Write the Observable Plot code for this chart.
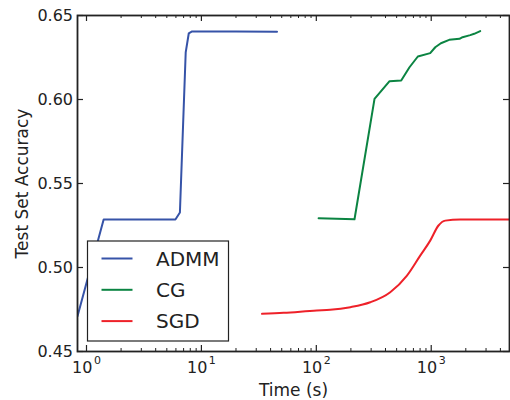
<!DOCTYPE html>
<html><head><meta charset="utf-8">
<script src="https://cdn.jsdelivr.net/npm/d3@7"></script>
<script src="https://cdn.jsdelivr.net/npm/@observablehq/plot@0.6"></script>
<style>body{margin:0;background:#fff} svg{font-family:"DejaVu Sans";}</style>
</head><body><div id="chart"></div>
<script>
const names = ["ADMM", "CG", "SGD"];
const colors = ["#3653a8", "#0b8442", "#ee2129"];

const admmT = [0.835, 1.41, 5.94, 6.5, 7.3, 7.76, 8.3, 20, 45.5];
const admmAcc = [0.471, 0.5286, 0.5286, 0.5327, 0.628, 0.6393, 0.6405, 0.6405, 0.6403];

const cgT = [104.7, 215, 321, 434, 548, 647, 765, 980, 1084, 1214, 1434, 1763, 1874, 2185, 2366, 2670];
const cgAcc = [0.5293, 0.5287, 0.6004, 0.6109, 0.6113, 0.6192, 0.6256, 0.6276, 0.6311, 0.6335, 0.6355, 0.6361, 0.6371, 0.6383, 0.6391, 0.6407];

const sgdT = [33.7, 52, 101, 132, 198, 295, 440, 615, 802, 980, 1157, 1324, 1786, 4800];
const sgdAcc = [0.4724, 0.4730, 0.4744, 0.4748, 0.4764, 0.4793, 0.4853, 0.4952, 0.5071, 0.5160, 0.5250, 0.5279, 0.5286, 0.5286];

const xMajor = [1, 10, 100, 1000];
const xExponents = ["0", "1", "2", "3"];
const xMinor = [2,3,4,5,6,7,8,9, 20,30,40,50,60,70,80,90, 200,300,400,500,600,700,800,900, 2000,3000,4000];
const yTicks = [0.45, 0.50, 0.55, 0.60, 0.65];
const xLabel = "Time (s)";
const yLabel = "Test Set Accuracy";

const seriesT = [admmT, cgT, sgdT];
const seriesAcc = [admmAcc, cgAcc, sgdAcc];
const data = [];
names.forEach((n, i) => seriesT[i].forEach((t, j) => data.push({name: n, t, acc: seriesAcc[i][j]})));

const W = 510, H = 400, mL = 77, mR = 1, mT = 15, mB = 49;
const xDom = [0.835, 4800], yDom = [0.45, 0.65];
// convert pixel tick lengths into data units of the scales
const yPerPx = (yDom[1] - yDom[0]) / (H - mT - mB);
const decPerPx = (Math.log10(xDom[1]) - Math.log10(xDom[0])) / (W - mL - mR);
const majY = 6 * yPerPx, minY = 3 * yPerPx;
const majXf = Math.pow(10, 6 * decPerPx);

const axisColor = "#222";
const tk = (opts) => ({stroke: axisColor, ...opts});
const chart = Plot.plot({
  width: W, height: H,
  marginLeft: mL, marginRight: mR, marginTop: mT, marginBottom: mB,
  style: {fontFamily: "DejaVu Sans", fontSize: "16px", color: axisColor, background: "white", overflow: "visible"},
  x: {type: "log", domain: xDom},
  y: {domain: yDom},
  color: {domain: names, range: colors},
  marks: [
    Plot.line(data.filter(d => d.name !== "SGD"), {x: "t", y: "acc", z: "name", stroke: "name", strokeWidth: 2, clip: true}),
    Plot.line(data.filter(d => d.name === "SGD"), {x: "t", y: "acc", z: "name", stroke: "name", strokeWidth: 2, clip: true, curve: "monotone-x"}),
    Plot.axisX({anchor: "bottom", ticks: xMajor, tickSize: 0, tickPadding: 10, tickFormat: d => "10^" + xExponents[xMajor.indexOf(d)], fontSize: 16, label: null}),
    Plot.axisY({anchor: "left", ticks: yTicks, tickSize: 0, tickPadding: 4.5, tickFormat: d3.format(".2f"), fontSize: 16, label: null}),
    // inward ticks on all four sides
    Plot.ruleX(xMajor, tk({x: d => d, y1: yDom[0], y2: yDom[0] + majY, strokeWidth: 1.2})),
    Plot.ruleX(xMinor, tk({x: d => d, y1: yDom[0], y2: yDom[0] + minY, strokeWidth: 1})),
    Plot.ruleX(xMajor, tk({x: d => d, y1: yDom[1] - majY, y2: yDom[1], strokeWidth: 1.2})),
    Plot.ruleX(xMinor, tk({x: d => d, y1: yDom[1] - minY, y2: yDom[1], strokeWidth: 1})),
    Plot.ruleY(yTicks, tk({y: d => d, x1: xDom[0], x2: xDom[0] * majXf, strokeWidth: 1.2})),
    Plot.ruleY(yTicks, tk({y: d => d, x1: xDom[1] / majXf, x2: xDom[1], strokeWidth: 1.2})),
    Plot.frame({stroke: axisColor, strokeWidth: 1.8}),
    Plot.text([xLabel], {frameAnchor: "bottom", lineAnchor: "middle", textAnchor: "middle", dy: 38.6, fontSize: 17, fill: axisColor}),
    Plot.text([yLabel], {frameAnchor: "left", lineAnchor: "middle", textAnchor: "middle", dx: -55, rotate: -90, fontSize: 17, fill: axisColor})
  ]
});
document.getElementById("chart").append(chart);

const svg = d3.select(chart);
// render the decade labels as 10 with a raised exponent
svg.selectAll("text").each(function() {
  const t = d3.select(this);
  const s = t.text();
  if (!s.startsWith("10^")) return;
  const exp = s.slice(3);
  t.text("10");
  t.append("tspan").attr("dx", 1.5).attr("dy", -9).attr("font-size", 11).text(exp);
});

// legend
const lg = svg.append("g").attr("transform", "translate(87.5,241)");
lg.append("rect").attr("width", 141).attr("height", 100).attr("fill", "white").attr("stroke", axisColor).attr("stroke-width", 1.2);
names.forEach((n, i) => {
  const y = 17.5 + i * 31.3;
  lg.append("line").attr("x1", 14).attr("x2", 45).attr("y1", y).attr("y2", y).attr("stroke", colors[i]).attr("stroke-width", 2);
  lg.append("text").attr("x", 68.5).attr("y", y).attr("dy", "0.36em").attr("text-anchor", "start").attr("font-size", 20).attr("fill", axisColor).text(n);
});
</script>
</body></html>
